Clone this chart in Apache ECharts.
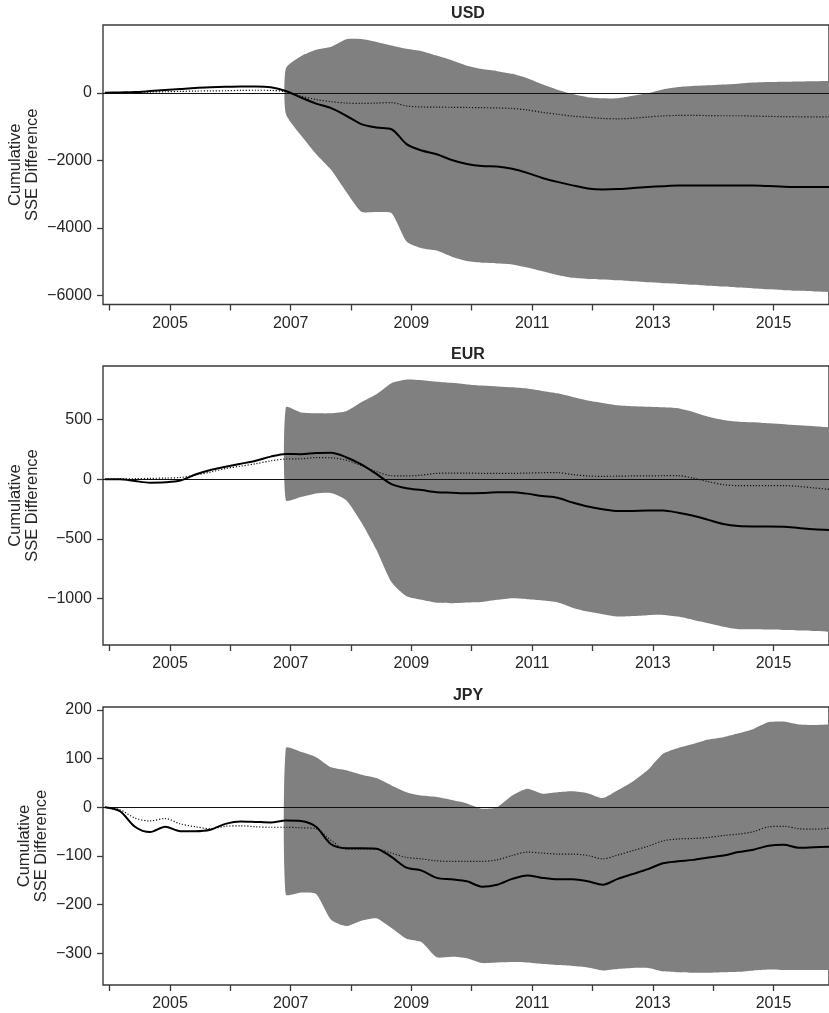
<!DOCTYPE html>
<html><head><meta charset="utf-8">
<script src="https://cdn.jsdelivr.net/npm/echarts@6/dist/echarts.min.js"></script>
<style>html,body{margin:0;padding:0;background:#fff}#c{width:829px;height:1013px}</style>
</head><body><div id="c"></div>
<script>
// quarterly sample dates (decimal years)
const dates = [2003.92,2004.17,2004.42,2004.67,2004.92,2005.17,2005.42,2005.67,2005.92,2006.17,2006.42,2006.67,
  2006.92,2007.17,2007.42,2007.67,2007.92,2008.17,2008.42,2008.67,2008.92,2009.17,2009.42,2009.67,2009.92,
  2010.17,2010.42,2010.67,2010.92,2011.17,2011.42,2011.67,2011.92,2012.17,2012.42,2012.67,2012.92,2013.17,
  2013.42,2013.67,2013.92,2014.17,2014.42,2014.67,2014.92,2015.17,2015.42,2015.67,2015.92];
const N12 = [null,null,null,null,null,null,null,null,null,null,null,null];

// USD
const usdMean = [0,10,20,50,80,110,140,160,175,185,185,160,50,-140,-320,-455,-680,-930,-1030,-1080,-1520,-1710,-1820,-1990,-2110,-2170,-2185,-2250,-2370,-2520,-2637,-2740,-2830,-2860,-2850,-2820,-2790,-2765,-2745,-2745,-2745,-2745,-2745,-2745,-2760,-2780,-2785,-2785,-2785];
const usdAlt = [0,5,10,20,30,40,50,55,60,70,75,70,30,-100,-200,-265,-305,-315,-305,-290,-390,-420,-425,-430,-435,-440,-450,-465,-510,-580,-635,-690,-725,-760,-770,-755,-715,-685,-670,-670,-675,-680,-680,-690,-700,-705,-710,-712,-712];
const usdUpper = N12.concat([720,1080,1270,1360,1585,1590,1505,1400,1300,1230,1100,960,800,700,640,560,430,250,90,-40,-130,-165,-160,-90,-10,100,170,200,220,245,270,300,315,325,335,342,348]);
const usdLower = N12.concat([-620,-1260,-1810,-2280,-2930,-3520,-3530,-3560,-4400,-4600,-4670,-4850,-4980,-5030,-5050,-5080,-5170,-5280,-5390,-5475,-5510,-5525,-5550,-5580,-5610,-5635,-5655,-5680,-5710,-5735,-5765,-5790,-5815,-5840,-5860,-5880,-5900]);

// EUR
const eurMean = [0,0,-15,-28,-25,-10,40,78,105,130,155,190,212,210,220,222,185,125,45,-40,-75,-90,-108,-112,-117,-115,-108,-108,-120,-140,-155,-195,-228,-250,-266,-265,-262,-262,-280,-305,-340,-375,-392,-395,-395,-398,-408,-418,-425];
const eurAlt = [0,2,5,8,10,15,35,60,90,110,130,155,170,172,182,180,160,115,65,30,28,35,50,52,52,50,50,50,52,55,56,40,28,25,26,28,28,30,30,10,-20,-45,-53,-53,-53,-53,-60,-72,-84];
const eurUpper = N12.concat([603,560,553,553,570,645,712,805,835,830,818,808,795,785,778,770,760,740,720,690,660,640,620,612,608,603,595,564,524,497,483,478,469,461,452,444,435]);
const eurLower = N12.concat([-175,-148,-118,-115,-175,-360,-590,-860,-980,-1010,-1035,-1038,-1032,-1028,-1010,-997,-1005,-1015,-1030,-1075,-1108,-1130,-1150,-1145,-1138,-1136,-1150,-1178,-1205,-1235,-1256,-1256,-1258,-1262,-1266,-1270,-1276]);

// JPY
const jpyMean = [0,-8,-40,-51,-40,-49,-49,-46,-34,-29,-30,-31,-27,-28,-40,-76,-84,-84,-85,-102,-124,-130,-145,-148,-152,-163,-159,-147,-140,-145,-148,-148,-152,-159,-147,-137,-127,-115,-111,-108,-103,-99,-92,-87,-79,-77,-83,-82,-81];
const jpyAlt = [0,-5,-22,-28,-23,-34,-40,-44,-39,-38,-40,-41,-41,-42,-44,-68,-86,-86,-86,-94,-103,-106,-110,-111,-111,-111,-108,-99,-92,-94,-96,-96,-99,-106,-98,-89,-80,-69,-65,-64,-62,-58,-55,-50,-40,-39,-44,-45,-43];
const jpyUpper = N12.concat([122,114,103,82,76,67,60,45,31,24,21,15,8,-3,0,24,38,28,31,33,29,19,35,53,77,110,122,130,139,144,152,161,175,176,170,169,170]);
const jpyLower = N12.concat([-179,-175,-178,-231,-244,-233,-228,-248,-270,-277,-308,-307,-310,-320,-319,-318,-319,-322,-324,-326,-329,-335,-332,-330,-330,-337,-339,-340,-340,-339,-338,-335,-333,-334,-334,-334,-334]);

// ticks
const xTickYears = [2004,2005,2006,2007,2008,2009,2010,2011,2012,2013,2014,2015];
const xLabelYears = [2005,2007,2009,2011,2013,2015];
const usdTicks = [-6000,-4000,-2000,0];
const eurTicks = [-1000,-500,0,500];
const jpyTicks = [-300,-200,-100,0,100,200];

const FONT = '"Liberation Sans", Arial, Helvetica, sans-serif';
const TXT = '#262626';
const SPINE = '#3a3a3a';

const panels = [
  {name:'USD', mean:usdMean, alt:usdAlt, up:usdUpper, lo:usdLower, ticks:usdTicks, min:-6265, max:2005, top:25, height:279.5, ylx:23.5},
  {name:'EUR', mean:eurMean, alt:eurAlt, up:eurUpper, lo:eurLower, ticks:eurTicks, min:-1388, max:949, top:366, height:279, ylx:23.5},
  {name:'JPY', mean:jpyMean, alt:jpyAlt, up:jpyUpper, lo:jpyLower, ticks:jpyTicks, min:-365, max:206, top:707, height:278, ylx:32.5}
];

const minus = v => (v < 0 ? '\u2212' + Math.abs(v) : String(v));
const pairs = arr => dates.map((d,i) => [d, arr[i]]);

const grids = [], xAxes = [], yAxes = [], series = [], graphics = [];
panels.forEach((p, i) => {
  grids.push({left:103, width:730, top:p.top, height:p.height, show:true, borderColor:SPINE, borderWidth:1.4, backgroundColor:'transparent', containLabel:false});
  xAxes.push({type:'value', gridIndex:i, min:2003.89, max:2015.92,
    axisLine:{show:false, onZero:false}, splitLine:{show:false},
    axisTick:{show:true, length:6, customValues:xTickYears, lineStyle:{color:SPINE, width:1.3}},
    axisLabel:{show:true, customValues:xLabelYears, margin:11, formatter:v=>String(v), color:TXT, fontSize:16, fontFamily:FONT}});
  yAxes.push({type:'value', gridIndex:i, min:p.min, max:p.max,
    axisLine:{show:false, onZero:false}, splitLine:{show:false},
    axisTick:{show:true, length:6, customValues:p.ticks, lineStyle:{color:SPINE, width:1.3}},
    axisLabel:{show:true, customValues:p.ticks, margin:11, formatter:minus, color:TXT, fontSize:16, fontFamily:FONT}});
  const idx = [];
  p.up.forEach((v,k)=>{ if (v !== null && p.lo[k] !== null) idx.push(k); });
  const bandData = idx.map(k => [dates[k], p.lo[k], p.up[k]]);
  series.push({type:'custom', coordinateSystem:'cartesian2d', xAxisIndex:i, yAxisIndex:i, silent:true, z:1,
    data:bandData, encode:{x:0, y:[1,2]},
    renderItem:(params, api) => {
      if (params.dataIndex !== 0) return null;
      const top = bandData.map(r => api.coord([r[0], r[2]]));
      const bot = bandData.map(r => api.coord([r[0], r[1]])).reverse();
      // repeat the right-hand corners so the closing edge stays straight
      const pts = top.concat([top[top.length-1]], [bot[0]], bot);
      return {type:'polygon', shape:{points:pts, smooth:0.2}, style:{fill:'#808080', stroke:null}};
    }});
  series.push({type:'line', xAxisIndex:i, yAxisIndex:i, data:pairs(p.alt), showSymbol:false, symbol:'none', smooth:0.3,
    lineStyle:{color:'#111', width:1.2, type:[1.2,1.8]}, silent:true, z:4,
    markLine:{silent:true, symbol:'none', label:{show:false}, lineStyle:{color:'#111', width:1.2, type:'solid'}, data:[{yAxis:0}], animation:false, z:3}});
  series.push({type:'line', xAxisIndex:i, yAxisIndex:i, data:pairs(p.mean), showSymbol:false, symbol:'none', smooth:0.3,
    lineStyle:{color:'#000', width:2}, silent:true, z:5});
  graphics.push({type:'text', x:468, y:p.top - 11.5, style:{text:p.name, font:'bold 16px ' + FONT, fill:TXT, align:'center', verticalAlign:'middle', textAlign:'center', textVerticalAlign:'middle'}});
  graphics.push({type:'text', x:p.ylx, y:p.top + p.height/2, rotation:Math.PI/2,
    style:{text:'Cumulative\nSSE Difference', font:'16.5px ' + FONT, lineHeight:17, fill:TXT, align:'center', verticalAlign:'middle', textAlign:'center', textVerticalAlign:'middle'}});
});

const chart = echarts.init(document.getElementById('c'), null, {renderer:'canvas'});
chart.setOption({animation:false, backgroundColor:'#fff', grid:grids, xAxis:xAxes, yAxis:yAxes, series:series, graphic:graphics});
</script>
</body></html>
